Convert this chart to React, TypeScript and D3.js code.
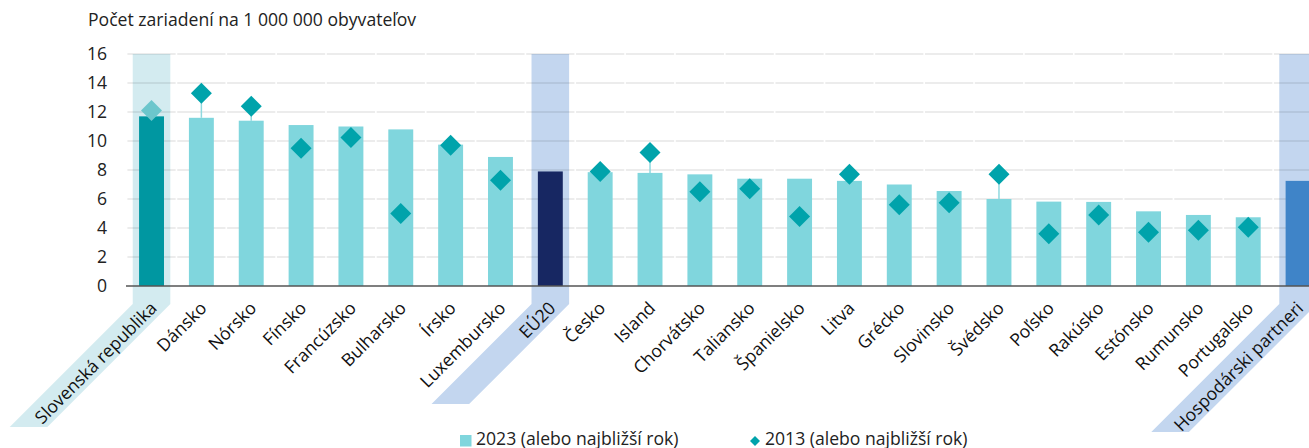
import React from 'react';
import * as d3 from 'd3';

const categories = [
  'Slovenská republika', 'Dánsko', 'Nórsko', 'Fínsko', 'Francúzsko', 'Bulharsko',
  'Írsko', 'Luxembursko', 'EÚ20', 'Česko', 'Island', 'Chorvátsko', 'Taliansko',
  'Španielsko', 'Litva', 'Grécko', 'Slovinsko', 'Švédsko', 'Poľsko', 'Rakúsko',
  'Estónsko', 'Rumunsko', 'Portugalsko', 'Hospodárski partneri',
];

const values2023 = [
  11.7, 11.6, 11.4, 11.1, 11.0, 10.8, 9.75, 8.9, 7.9, 7.85, 7.8, 7.7, 7.4,
  7.4, 7.25, 7.0, 6.55, 6.0, 5.82, 5.8, 5.15, 4.9, 4.74, 7.25,
];

const values2013: (number | null)[] = [
  12.1, 13.3, 12.4, 9.5, 10.25, 5.0, 9.7, 7.3, null, 7.9, 9.2, 6.5, 6.7,
  4.8, 7.7, 5.6, 5.75, 7.7, 3.6, 4.9, 3.7, 3.85, 4.05, null,
];

const yTicks = [0, 2, 4, 6, 8, 10, 12, 14, 16];

const legendLabels = ['2023 (alebo najbližší rok)', '2013 (alebo najbližší rok)'];
const title = 'Počet zariadení na 1 000 000 obyvateľov';

// highlighted categories: band colour, bar colour, length of the slanted tail
const highlights: Record<string, { band: string; bar: string; tail: number }> = {
  'Slovenská republika': { band: '#d3ebf0', bar: '#0097a1', tail: 123 },
  'EÚ20': { band: '#c3d6ef', bar: '#172762', tail: 100 },
  'Hospodárski partneri': { band: '#c3d6ef', bar: '#3f84c8', tail: 128 },
};

const W = 1309;
const H = 448;
const FONT = '"Open Sans", "Noto Sans", sans-serif';
const FS = 17.6;
const BAR = '#80d6dd';
const DIAMOND = '#00a3ab';

export default function App() {
  const x = d3
    .scaleBand<string>()
    .domain(categories)
    .range([126.6, 126.6 + categories.length * 49.85])
    .paddingInner(0.5)
    .paddingOuter(0.25);

  const y = d3.scaleLinear().domain([0, 16]).range([286, 54]);
  const step = x.step();
  const bw = x.bandwidth();
  const cx = (c: string) => (x(c) as number) + bw / 2;
  const bandW = 37.6;
  const turnY = 304;

  const diamond = (r: number) => `M0,${-r}L${r},0L0,${r}L${-r},0Z`;

  return (
    <svg
      width={W}
      height={H}
      style={{ position: 'absolute', left: 0, top: 0, display: 'block', background: '#fff' }}
      fontFamily={FONT}
    >
      {/* highlight bands */}
      {categories.map((c) => {
        const h = highlights[c];
        if (!h) return null;
        const x0 = cx(c) - bandW / 2;
        const x1 = cx(c) + bandW / 2;
        const L = h.tail;
        const pts = [
          [x0, y(16)], [x1, y(16)], [x1, turnY], [x1 - L, turnY + L],
          [x0 - L, turnY + L], [x0, turnY],
        ];
        return <polygon key={'hb' + c} points={pts.map((p) => p.join(',')).join(' ')} fill={h.band} />;
      })}

      {/* gridlines, broken at band edges */}
      {yTicks.filter((t) => t > 0).map((t) =>
        categories.map((c, i) => {
          const start = 126.6 + i * step;
          return (
            <line
              key={`g${t}-${i}`}
              x1={start + 0.8}
              x2={start + step - 0.8}
              y1={y(t)}
              y2={y(t)}
              stroke="rgba(0,0,0,0.1)"
              strokeWidth={1.5}
            />
          );
        })
      )}

      {/* y tick labels */}
      {yTicks.map((t) => (
        <text key={'yt' + t} x={107} y={y(t)} dy="0.35em" textAnchor="end" fontSize={FS} fill="#222">
          {t}
        </text>
      ))}

      {/* connectors */}
      {categories.map((c, i) => {
        const v = values2013[i];
        if (v == null || v <= values2023[i]) return null;
        return (
          <line key={'cn' + c} x1={cx(c)} x2={cx(c)} y1={y(values2023[i])} y2={y(v)} stroke="#8fd9df" strokeWidth={1.5} />
        );
      })}

      {/* bars */}
      {categories.map((c, i) => (
        <rect
          key={'b' + c}
          x={x(c)}
          y={y(values2023[i])}
          width={bw}
          height={y(0) - y(values2023[i])}
          fill={highlights[c] ? highlights[c].bar : BAR}
        />
      ))}

      {/* diamonds */}
      {categories.map((c, i) => {
        const v = values2013[i];
        if (v == null) return null;
        return (
          <path
            key={'d' + c}
            d={diamond(10.5)}
            transform={`translate(${cx(c)},${y(v)})`}
            fill={i === 0 ? '#6cc6cc' : DIAMOND}
          />
        );
      })}

      {/* x axis line */}
      <line x1={126} x2={W} y1={y(0)} y2={y(0)} stroke="#555" strokeWidth={1.5} />

      {/* category labels */}
      {categories.map((c) => (
        <text
          key={'xl' + c}
          transform={`translate(${cx(c) + 2},${turnY + 1}) rotate(-45)`}
          dy="0.35em"
          textAnchor="end"
          fontSize={FS}
          fill="#111"
        >
          {c}
        </text>
      ))}

      {/* title */}
      <text x={88} y={26} fontSize={FS} fill="#222">
        {title}
      </text>

      {/* legend */}
      <rect x={460} y={435} width={11.5} height={11.5} fill={BAR} />
      <text x={476} y={444.5} fontSize={FS} fill="#222">
        {legendLabels[0]}
      </text>
      <path d={diamond(5)} transform="translate(755,441)" fill={DIAMOND} />
      <text x={765} y={444.5} fontSize={FS} fill="#222">
        {legendLabels[1]}
      </text>
    </svg>
  );
}
